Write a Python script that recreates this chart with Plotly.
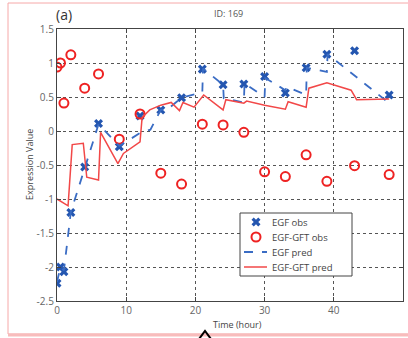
import plotly.graph_objects as go

# Sampling times (hours)
obs_time = [0, 0.5, 1, 2, 4, 6, 9, 12, 15, 18, 21, 24, 27, 30, 33, 36, 39, 43, 48]
egf_obs = [-2.24, -2.0, -2.07, -1.2, -0.53, 0.11, -0.23, 0.22, 0.31, 0.49,
           0.91, 0.68, 0.69, 0.8, 0.56, 0.93, 1.13, 1.18, 0.53]
gft_obs = [0.94, 1.0, 0.41, 1.12, 0.63, 0.84, -0.12, 0.25, -0.62, -0.78,
           0.1, 0.09, -0.02, -0.6, -0.67, -0.35, -0.74, -0.51, -0.64]

# Model predictions
egf_pred_t = [0, 0.5, 1, 2, 4, 6, 9, 12, 13.5, 15, 16, 18, 21, 21.1, 24, 24.1,
              27, 27.1, 30, 30.1, 33, 33.2, 36, 36.1, 39, 39.1, 48]
egf_pred = [-2.22, -2.0, -2.05, -1.19, -0.55, 0.1, -0.22, -0.03, 0.02, 0.31,
            0.32, 0.49, 0.57, 0.92, 0.68, 0.48, 0.42, 0.70, 0.5, 0.78, 0.6,
            0.65, 0.53, 0.93, 0.87, 1.13, 0.41]
gft_pred_t = [0, 1.6, 2.2, 3.8, 4.3, 6.0, 6.3, 8.8, 9.6, 12.0, 12.3, 13.4, 15.0,
              16.5, 17.7, 18.2, 19.8, 21.2, 24.0, 24.4, 27.0, 27.4, 30.0, 33.0,
              33.4, 36.0, 36.4, 39.0, 42.5, 43.3, 48.0]
gft_pred = [-1.0, -1.1, -0.2, -0.18, -0.68, -0.72, -0.02, -0.48, -0.33, -0.16,
            0.2, 0.31, 0.38, 0.42, 0.3, 0.42, 0.35, 0.53, 0.31, 0.46, 0.41,
            0.44, 0.38, 0.32, 0.43, 0.35, 0.63, 0.71, 0.6, 0.46, 0.47]

x_ticks = [0, 10, 20, 30, 40, 50]
y_ticks = [1.5, 1, 0.5, 0, -0.5, -1, -1.5, -2, -2.5]
y_tick_text = ["1.5", "1", "0.5", "0", "-0.5", "-1", "-1.5", "-2", "-2.5"]
legend_labels = ["EGF obs", "EGF-GFT obs", "EGF pred", "EGF-GFT pred"]

BLUE = "#2456b0"
BLUE_LINE = "#3a6cc4"
RED = "#ee2222"
RED_LINE = "#f24848"
FONT = "Open Sans"

# Figure geometry (pixels)
W, H = 408, 338
L, R, T, B = 57, 5, 29, 37
pw, ph = W - L - R, H - T - B


def px(x):
    return (x - L) / pw


def py(y):
    return (H - B - y) / ph


egf_obs_style = dict(symbol="x", size=8, color=BLUE, line=dict(width=0))
gft_obs_style = dict(symbol="circle-open", size=9, color=RED, line=dict(width=2, color=RED))
egf_pred_style = dict(color=BLUE_LINE, width=1.8, dash="dash")
gft_pred_style = dict(color=RED_LINE, width=1.5)

fig = go.Figure()
fig.add_trace(go.Scatter(x=obs_time, y=egf_obs, mode="markers", name=legend_labels[0],
                         marker=egf_obs_style))
fig.add_trace(go.Scatter(x=obs_time, y=gft_obs, mode="markers", name=legend_labels[1],
                         marker=gft_obs_style))
fig.add_trace(go.Scatter(x=egf_pred_t, y=egf_pred, mode="lines", name=legend_labels[2],
                         line=egf_pred_style))
fig.add_trace(go.Scatter(x=gft_pred_t, y=gft_pred, mode="lines", name=legend_labels[3],
                         line=gft_pred_style))

# Compact boxed legend drawn on a pixel-space overlay axis
box_l, box_r, box_t, box_b = 240, 352, 213, 276
row_y = [222, 237, 252, 267]
sym_x0, sym_x1, sym_xc, text_x = 244, 267, 256, 270

fig.add_trace(go.Scatter(x=[box_l, box_r, box_r, box_l, box_l],
                         y=[box_t, box_t, box_b, box_b, box_t],
                         xaxis="x2", yaxis="y2", mode="lines", fill="toself",
                         fillcolor="white", line=dict(color="#444", width=1),
                         showlegend=False, hoverinfo="skip"))
fig.add_trace(go.Scatter(x=[sym_xc], y=[row_y[0]], xaxis="x2", yaxis="y2", mode="markers",
                         marker=egf_obs_style, showlegend=False, hoverinfo="skip"))
fig.add_trace(go.Scatter(x=[sym_xc], y=[row_y[1]], xaxis="x2", yaxis="y2", mode="markers",
                         marker=gft_obs_style, showlegend=False, hoverinfo="skip"))
fig.add_trace(go.Scatter(x=[sym_x0, sym_x1], y=[row_y[2]] * 2, xaxis="x2", yaxis="y2",
                         mode="lines", line=egf_pred_style, showlegend=False, hoverinfo="skip"))
fig.add_trace(go.Scatter(x=[sym_x0, sym_x1], y=[row_y[3]] * 2, xaxis="x2", yaxis="y2",
                         mode="lines", line=gft_pred_style, showlegend=False, hoverinfo="skip"))

axis_common = dict(showline=True, linecolor="#444", linewidth=1.2, mirror="ticks",
                   ticks="inside", ticklen=4, tickcolor="#444",
                   showgrid=True, gridcolor="#555", griddash="dot", gridwidth=0.9,
                   zeroline=False, tickfont=dict(family=FONT, size=10, color="#666"))

fig.update_xaxes(range=[0, 50], tickvals=x_ticks, **axis_common)
fig.update_yaxes(range=[-2.5, 1.5], tickvals=y_ticks, ticktext=y_tick_text, **axis_common)

annotations = [
    dict(text="(a)", x=px(54), y=py(26), xref="paper", yref="paper",
         xanchor="left", yanchor="bottom", showarrow=False,
         font=dict(family=FONT, size=14, color="#333")),
    dict(text="ID: 169", x=px(228), y=py(22), xref="paper", yref="paper",
         xanchor="center", yanchor="bottom", showarrow=False,
         font=dict(family=FONT, size=9, color="#555")),
    dict(text="Time (hour)", x=px(237), y=py(333), xref="paper", yref="paper",
         xanchor="center", yanchor="bottom", showarrow=False,
         font=dict(family=FONT, size=9, color="#444")),
    dict(text="Expression Value", x=px(29), y=py(165), xref="paper", yref="paper",
         xanchor="center", yanchor="middle", textangle=-90, showarrow=False,
         font=dict(family=FONT, size=9, color="#444")),
]
for label, yy in zip(legend_labels, row_y):
    annotations.append(dict(text=label, x=text_x, y=yy, xref="x2", yref="y2",
                            xanchor="left", yanchor="middle", showarrow=False,
                            font=dict(family=FONT, size=9.5, color="#444")))

fig.update_layout(
    width=W, height=H,
    margin=dict(l=L, r=R, t=T, b=B, autoexpand=False),
    paper_bgcolor="white", plot_bgcolor="white",
    font=dict(family=FONT, size=9, color="#444"),
    showlegend=False,
    xaxis2=dict(overlaying="x", anchor="y2", range=[L, W - R], visible=False),
    yaxis2=dict(overlaying="y", anchor="x2", range=[H - B, T], visible=False),
    annotations=annotations,
    shapes=[
        dict(type="rect", xref="paper", yref="paper", x0=px(8), x1=px(412),
             y0=py(334), y1=py(3), line=dict(color="#f6a8a8", width=1)),
        dict(type="line", xref="paper", yref="paper", x0=px(8), x1=px(412),
             y0=py(335), y1=py(335), line=dict(color="#f8bcbc", width=3)),
        dict(type="path", xref="paper", yref="paper",
             path=f"M {px(199)} {py(339)} L {px(205)} {py(331)} L {px(211)} {py(339)}",
             line=dict(color="black", width=2)),
    ],
)

fig.write_html("out.html")
